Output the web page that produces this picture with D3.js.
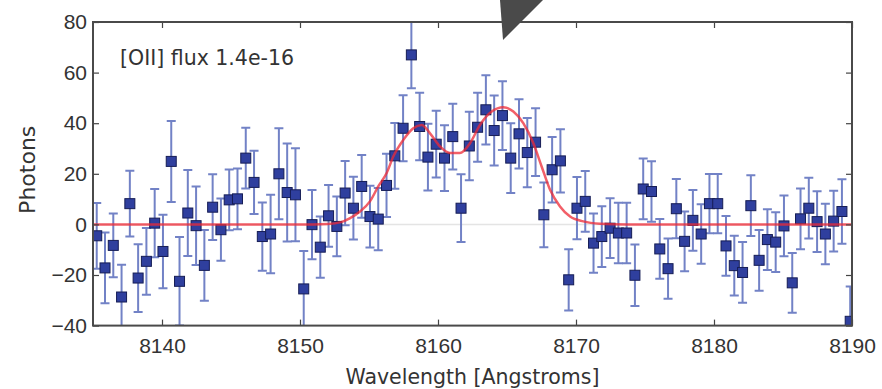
<!DOCTYPE html>
<html>
<head>
<meta charset="utf-8">
<script src="https://cdn.jsdelivr.net/npm/d3@7"></script>
<style>
  body { margin: 0; background: #fff; }
  svg { display: block; font-family: "DejaVu Sans", sans-serif; }
</style>
</head>
<body>
<svg id="chart" width="882" height="389"></svg>
<script>
// Wavelength grid of the spectrum (Angstroms)
const wavelengths = [
  8135.27, 8135.87, 8136.47, 8137.07, 8137.67, 8138.27, 8138.87, 8139.47, 8140.07, 8140.67,
  8141.27, 8141.87, 8142.47, 8143.07, 8143.67, 8144.27, 8144.87, 8145.47, 8146.07, 8146.67,
  8147.27, 8147.87, 8148.47, 8149.07, 8149.67, 8150.27, 8150.87, 8151.47, 8152.07, 8152.67,
  8153.27, 8153.87, 8154.47, 8155.07, 8155.67, 8156.27, 8156.87, 8157.47, 8158.07, 8158.67,
  8159.27, 8159.87, 8160.47, 8161.07, 8161.67, 8162.27, 8162.87, 8163.47, 8164.07, 8164.67,
  8165.27, 8165.87, 8166.47, 8167.07, 8167.67, 8168.27, 8168.87, 8169.47, 8170.07, 8170.67,
  8171.27, 8171.87, 8172.47, 8173.07, 8173.67, 8174.27, 8174.87, 8175.47, 8176.07, 8176.67,
  8177.27, 8177.87, 8178.47, 8179.07, 8179.67, 8180.27, 8180.87, 8181.47, 8182.07, 8182.67,
  8183.27, 8183.87, 8184.47, 8185.07, 8185.67, 8186.27, 8186.87, 8187.47, 8188.07, 8188.67,
  8189.27, 8189.87
];

// Measured photons per bin
const photons = [
  -4.5, -17.2, -8.3, -28.7, 8.2, -21.2, -14.6, 0.5, -10.7, 24.9,
  -22.5, 4.5, -0.5, -16.2, 6.8, -2.1, 9.7, 10.1, 26.2, 16.6,
  -4.8, -3.8, 20, 12.6, 11.7, -25.5, -0.1, -9, 3.4, -0.8,
  12.4, 6.4, 15, 3.1, 2.1, 15.4, 27.1, 38, 67, 38.7,
  26.6, 31.7, 26.2, 34.7, 6.4, 31, 38.4, 45.3, 37.1, 43,
  26.2, 35.8, 28.4, 32.5, 3.8, 21.6, 25.1, -21.9, 6.4, 9.1,
  -7.4, -4.8, -1.5, -3.4, -3.4, -20.1, 14, 13, -9.7, -17.5,
  6.2, -6.7, 1.6, -3.8, 8.2, 8.2, -8.5, -16.3, -19, 7.4,
  -14.2, -6, -7, -0.6, -23.1, 2.2, 6.4, 1.1, -3.8, 1.3,
  5.1, -38.3
];

// 1-sigma error per bin
const errors = [
  13, 14, 12.6, 12.8, 13, 13.4, 13.2, 13.5, 14.5, 16,
  17.5, 17, 15.5, 14, 13, 12.3, 12, 12, 12, 12.5,
  13.5, 15.5, 18, 19.4, 18.4, 15, 13.7, 12.1, 12.2, 11.8,
  12.7, 12.4, 12.4, 12.2, 12.3, 12.5, 13, 13, 13.2, 13.3,
  13.2, 13.2, 13, 13, 13.4, 13.5, 13.6, 13.7, 13.8, 13.6,
  13.8, 13.7, 13.7, 13.4, 12.8, 12.9, 12.5, 12.1, 12.3, 12,
  11.7, 12, 11.8, 12, 12, 12.2, 12, 12, 11.8, 11.9,
  11.7, 11.8, 12, 11.8, 11.7, 11.7, 11.8, 11.8, 12, 12,
  12, 12, 11.8, 12, 11.8, 12, 12, 12, 12, 12,
  12.7, 13.8
];

// Fitted [OII] doublet model
const modelWave = [
  8135, 8150, 8152, 8152.97, 8153.6, 8154.35, 8155.07, 8155.67, 8156.28, 8156.76,
  8157.49, 8158.21, 8158.82, 8159.42, 8160.14, 8160.87, 8161.59, 8162.32, 8163.04, 8163.89,
  8164.73, 8165.46, 8166.18, 8166.91, 8167.51, 8168.12, 8168.84, 8169.57, 8170.53, 8171.74,
  8173.67, 8190
];
const modelFlux = [
  0, 0, 0.2, 0.9, 2.4, 5.1, 9.1, 15, 20.3, 26.8,
  33.4, 38, 39.3, 36, 30.8, 28.2, 28.2, 32.1, 39.3, 44.6,
  46.3, 44.6, 40, 32.1, 22.9, 13.7, 7.1, 3.1, 1.2, 0.3,
  0, 0
];

const xTicks = [8140, 8150, 8160, 8170, 8180, 8190];
const yTicks = [-40, -20, 0, 20, 40, 60, 80];
const label = '[OII] flux 1.4e-16';

const W = 882, H = 389;
const margin = { left: 93, right: 30, top: 22, bottom: 63.4 };
const plotW = W - margin.left - margin.right;
const plotH = H - margin.top - margin.bottom;

const svg = d3.select('#chart');
svg.append('rect').attr('width', W).attr('height', H).attr('fill', '#fff');

const x = d3.scaleLinear().domain([8135, 8190]).range([0, plotW]);
const y = d3.scaleLinear().domain([-40, 80]).range([plotH, 0]);

const g = svg.append('g').attr('transform', `translate(${margin.left},${margin.top})`);

svg.append('defs').append('clipPath').attr('id', 'plotClip')
  .append('rect').attr('width', plotW).attr('height', plotH);

const plot = g.append('g').attr('clip-path', 'url(#plotClip)');

// Faint zero line
plot.append('line')
  .attr('x1', 0).attr('x2', plotW)
  .attr('y1', y(0)).attr('y2', y(0))
  .attr('stroke', '#e4e4e4').attr('stroke-width', 1.5);

const points = wavelengths.map((w, i) => ({ w, v: photons[i], e: errors[i] }));

// Error bars
const bars = plot.append('g')
  .attr('stroke', '#7282c6')
  .attr('stroke-width', 2);
bars.selectAll('line.stem').data(points).join('line')
  .attr('class', 'stem')
  .attr('x1', d => x(d.w)).attr('x2', d => x(d.w))
  .attr('y1', d => y(d.v + d.e)).attr('y2', d => y(d.v - d.e));
bars.selectAll('line.capTop').data(points).join('line')
  .attr('class', 'capTop')
  .attr('x1', d => x(d.w) - 4.5).attr('x2', d => x(d.w) + 4.5)
  .attr('y1', d => y(d.v + d.e)).attr('y2', d => y(d.v + d.e));
bars.selectAll('line.capBot').data(points).join('line')
  .attr('class', 'capBot')
  .attr('x1', d => x(d.w) - 4.5).attr('x2', d => x(d.w) + 4.5)
  .attr('y1', d => y(d.v - d.e)).attr('y2', d => y(d.v - d.e));

// Square markers
const size = 10;
plot.append('g').selectAll('rect').data(points).join('rect')
  .attr('x', d => x(d.w) - size / 2)
  .attr('y', d => y(d.v) - size / 2)
  .attr('width', size).attr('height', size)
  .attr('fill', '#2f3f9e')
  .attr('stroke', '#161d55')
  .attr('stroke-width', 1);

// Model curve on top
const model = modelWave.map((w, i) => ({ w, v: modelFlux[i] }));
plot.append('path')
  .datum(model)
  .attr('fill', 'none')
  .attr('stroke', '#ee2a36')
  .attr('stroke-opacity', 0.75)
  .attr('stroke-width', 2.5)
  .attr('d', d3.line().x(d => x(d.w)).y(d => y(d.v)).curve(d3.curveMonotoneX));

// Axes with inward ticks on all sides
const tickStyle = sel => {
  sel.select('.domain').remove();
  sel.selectAll('.tick line').attr('stroke', '#444').attr('stroke-width', 1.2);
  sel.selectAll('.tick text').attr('fill', '#333').style('font-size', '21px');
};

g.append('g').attr('transform', `translate(0,${plotH})`)
  .call(d3.axisBottom(x).tickValues(xTicks).tickFormat(d3.format('d')).tickSize(-6).tickPadding(12))
  .call(tickStyle);
g.append('g')
  .call(d3.axisTop(x).tickValues(xTicks).tickSize(-6).tickFormat(''))
  .call(tickStyle);
g.append('g')
  .call(d3.axisLeft(y).tickValues(yTicks).tickSize(-6).tickPadding(6))
  .call(tickStyle);
g.append('g').attr('transform', `translate(${plotW},0)`)
  .call(d3.axisRight(y).tickValues(yTicks).tickSize(-6).tickFormat(''))
  .call(tickStyle);

// Frame
g.append('rect')
  .attr('width', plotW).attr('height', plotH)
  .attr('fill', 'none').attr('stroke', '#4a4a4a').attr('stroke-width', 2);

// Annotation and labels
g.append('text')
  .attr('x', 27).attr('y', 43)
  .attr('fill', '#333').style('font-size', '20.5px')
  .text(label);

svg.append('text')
  .attr('transform', `translate(35,${margin.top + plotH / 2 - 4}) rotate(-90)`)
  .attr('text-anchor', 'middle')
  .attr('fill', '#333').style('font-size', '22px')
  .text('Photons');

svg.append('text')
  .attr('x', margin.left + plotW / 2).attr('y', 384)
  .attr('text-anchor', 'middle')
  .attr('fill', '#333').style('font-size', '20.5px')
  .text('Wavelength [Angstroms]');

// Cursor arrow overlay at the top
svg.append('polygon')
  .attr('points', '500,0 543,0 503,40')
  .attr('fill', '#4a4a4a');
</script>
</body>
</html>
